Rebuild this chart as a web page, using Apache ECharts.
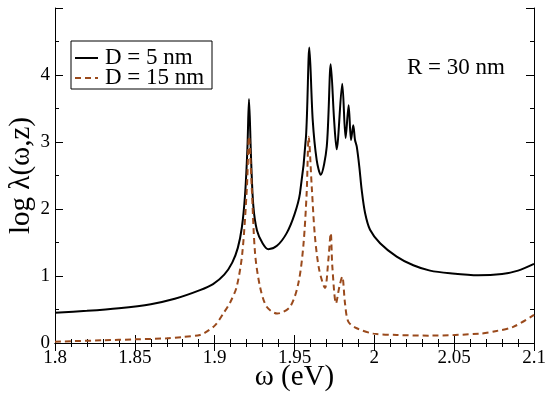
<!DOCTYPE html>
<html>
<head>
<meta charset="utf-8">
<script src="https://cdn.jsdelivr.net/npm/echarts@6/dist/echarts.min.js"></script>
<style>html,body{margin:0;padding:0;background:#fff}#c{width:550px;height:396px}</style>
</head>
<body>
<div id="c"></div>
<script>
var omegaD5 = [1.8,1.82,1.84,1.86,1.875,1.8908,1.899,1.906,1.911,1.9145,1.9170,1.9190,1.9205,1.9215,1.9228,1.9242,1.9265,1.9300,1.9336,1.9390,1.9451,1.9500,1.9534,1.9572,1.9593,1.9614,1.9639,1.9664,1.9702,1.9727,1.9748,1.9764,1.9799,1.9820,1.9839,1.9854,1.9868,1.9879,1.9890,1.9906,1.9921,1.9942,1.9973,2.0036,2.0140,2.0244,2.0349,2.0474,2.065,2.08,2.09,2.1];
var logD5 = [0.45,0.48,0.52,0.58,0.66,0.79,0.88,1.02,1.2,1.42,1.72,2.2,2.9,3.64,2.75,2.05,1.68,1.49,1.40,1.45,1.64,1.92,2.23,3.08,4.41,3.33,2.73,2.51,2.93,4.16,3.33,2.89,3.87,3.06,3.55,3.03,3.25,3.03,2.93,2.63,2.28,1.94,1.69,1.49,1.29,1.16,1.08,1.04,1.01,1.03,1.08,1.18];
var omegaD15 = [1.8,1.83,1.85,1.87,1.88,1.8908,1.895,1.9005,1.9054,1.9100,1.9138,1.9173,1.9202,1.9215,1.9232,1.9253,1.9284,1.9326,1.9392,1.9472,1.9524,1.9555,1.9576,1.9589,1.9608,1.9628,1.9655,1.9691,1.9712,1.9727,1.9737,1.9760,1.9781,1.9799,1.9816,1.9837,1.989,1.9994,2.014,2.035,2.0662,2.0766,2.087,2.1];
var logD15 = [0.02,0.04,0.055,0.07,0.09,0.12,0.17,0.27,0.44,0.62,0.84,1.34,2.33,3.08,2.33,1.34,0.84,0.54,0.44,0.54,0.89,1.44,2.23,3.08,2.33,1.59,1.09,0.82,1.24,1.64,1.14,0.59,0.84,0.99,0.60,0.32,0.22,0.14,0.12,0.11,0.14,0.18,0.24,0.42];
var xTicks = [1.8,1.85,1.9,1.95,2,2.05,2.1];
var yTicks = [0,1,2,3,4];

function pairs(xs, ys){ return xs.map(function(x,i){return [x, ys[i]];}); }

var font = 'Liberation Serif';
var darkBrown = '#9a4a1c';
var tickCommon = {inside:true, length:8, lineStyle:{color:'#000', width:1}};
var minorCommon = {show:true, splitNumber:5, length:4, lineStyle:{color:'#000', width:1}};

var chart = echarts.init(document.getElementById('c'));
chart.setOption({
  animation:false,
  backgroundColor:'#fff',
  grid:{left:55, right:16, top:8, bottom:53, containLabel:false, outerBoundsMode:'none'},
  graphic:[
    {type:'rect', shape:{x:71, y:41, width:141, height:48}, style:{fill:'#fff', stroke:'#000', lineWidth:1}, z:100},
    {type:'line', shape:{x1:75, y1:58, x2:98, y2:58}, style:{stroke:'#000', lineWidth:2}, z:101},
    {type:'line', shape:{x1:75, y1:78, x2:98, y2:78}, style:{stroke:darkBrown, lineWidth:2, lineDash:[6,4]}, z:101},
    {type:'text', x:105, y:58, style:{text:'D = 5 nm', font:'23px "Liberation Serif"', fill:'#000', textVerticalAlign:'middle'}, z:101},
    {type:'text', x:105, y:78, style:{text:'D = 15 nm', font:'23px "Liberation Serif"', fill:'#000', textVerticalAlign:'middle'}, z:101},
    {type:'text', x:407, y:68, style:{text:'R = 30 nm', font:'23px "Liberation Serif"', fill:'#000', textVerticalAlign:'middle'}, z:101}
  ],
  xAxis:[{
    type:'value', min:1.8, max:2.1, interval:0.05,
    name:'ω (eV)', nameLocation:'middle', nameGap:20, nameMoveOverlap:false,
    nameTextStyle:{fontFamily:font, fontSize:29, color:'#000'},
    axisLine:{lineStyle:{color:'#000', width:1}},
    axisTick:tickCommon, minorTick:minorCommon, splitLine:{show:false},
    axisLabel:{fontFamily:font, fontSize:19, color:'#000', margin:6,
      formatter:function(v){ var r=Math.round(v*100)/100; return xTicks.indexOf(r)>=0 ? String(r) : ''; }}
  },{
    type:'value', position:'top', min:1.8, max:2.1, interval:0.05,
    axisLine:{lineStyle:{color:'#000', width:1}},
    axisTick:tickCommon, minorTick:minorCommon, splitLine:{show:false}, axisLabel:{show:false}
  }],
  yAxis:[{
    type:'value', min:0, max:5, interval:1,
    name:'log λ(ω,z)', nameLocation:'middle', nameGap:19, nameMoveOverlap:false,
    nameTextStyle:{fontFamily:font, fontSize:29, color:'#000'},
    axisLine:{show:true, lineStyle:{color:'#000', width:1}},
    axisTick:tickCommon, minorTick:{show:true, splitNumber:2, length:4, lineStyle:{color:'#000'}},
    splitLine:{show:false},
    axisLabel:{fontFamily:font, fontSize:19, color:'#000', margin:5,
      formatter:function(v){ return yTicks.indexOf(v)>=0 ? String(v) : ''; }}
  },{
    type:'value', position:'right', min:0, max:5, interval:1,
    axisLine:{show:true, lineStyle:{color:'#000', width:1}},
    axisTick:tickCommon, minorTick:{show:true, splitNumber:2, length:4, lineStyle:{color:'#000'}},
    splitLine:{show:false}, axisLabel:{show:false}
  }],
  series:[{
    name:'D = 5 nm', type:'line', symbol:'none', smooth:0.3, data:pairs(omegaD5, logD5),
    lineStyle:{color:'#000', width:2}
  },{
    name:'D = 15 nm', type:'line', symbol:'none', smooth:0.3, data:pairs(omegaD15, logD15),
    lineStyle:{color:darkBrown, width:2, type:[6,4]}
  }]
});
</script>
</body>
</html>
